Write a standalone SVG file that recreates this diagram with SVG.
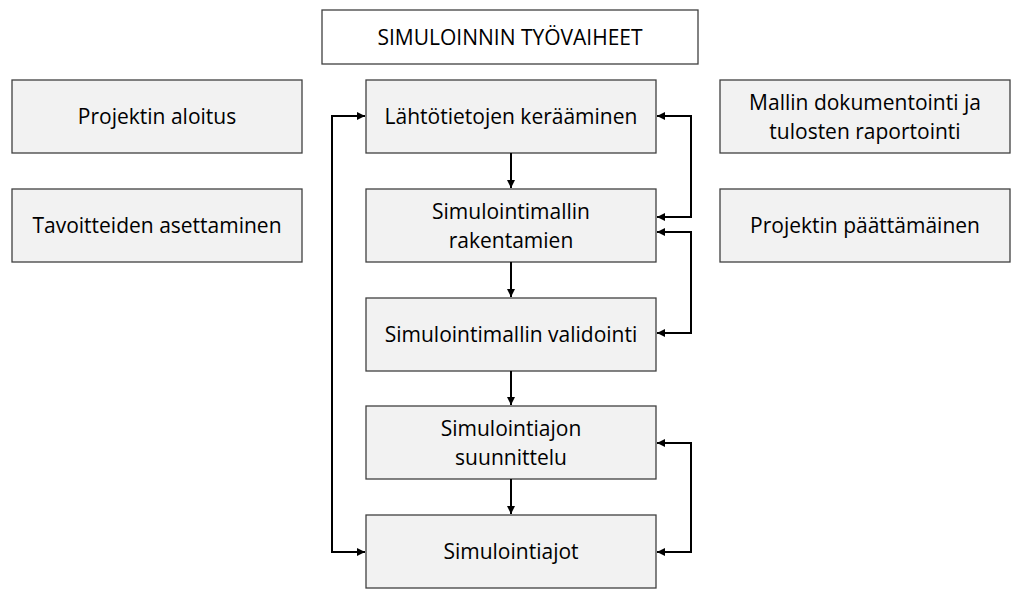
<svg xmlns="http://www.w3.org/2000/svg" width="1024" height="606" viewBox="0 0 1024 606">
<style>
.box{fill:#f2f2f2;stroke:#404040;stroke-width:1.3}
.title{fill:#ffffff;stroke:#404040;stroke-width:1.3}
text{font-family:"Open Sans","Liberation Sans",sans-serif;font-size:21px;fill:#000;text-anchor:middle}
.c{fill:none;stroke:#000;stroke-width:2}
</style>
<defs>
<marker id="ah" viewBox="0 0 10 10" refX="10" refY="5" markerWidth="4" markerHeight="4" orient="auto-start-reverse" markerUnits="strokeWidth">
<path d="M0,0 L10,5 L0,10 z" fill="#000"/>
</marker>
</defs>
<rect width="1024" height="606" fill="#fff"/>
<g id="title"><rect class="title" x="322" y="10" width="376" height="54"/><text x="510" y="45">SIMULOINNIN TYÖVAIHEET</text></g>
<g id="n-aloitus"><rect class="box" x="12" y="80" width="290" height="73"/><text x="157" y="124">Projektin aloitus</text></g>
<g id="n-tavoitteet"><rect class="box" x="12" y="189" width="290" height="73"/><text x="157" y="233">Tavoitteiden asettaminen</text></g>
<g id="n-lahto"><rect class="box" x="366" y="80" width="290" height="73"/><text x="511" y="124">Lähtötietojen kerääminen</text></g>
<g id="n-rakent"><rect class="box" x="366" y="189" width="290" height="73"/><text x="511" y="219">Simulointimallin</text><text x="511" y="248">rakentamien</text></g>
<g id="n-valid"><rect class="box" x="366" y="298" width="290" height="73"/><text x="511" y="342">Simulointimallin validointi</text></g>
<g id="n-suunn"><rect class="box" x="366" y="406" width="290" height="73"/><text x="511" y="436">Simulointiajon</text><text x="511" y="465">suunnittelu</text></g>
<g id="n-ajot"><rect class="box" x="366" y="515" width="290" height="73"/><text x="511" y="559">Simulointiajot</text></g>
<g id="n-dok"><rect class="box" x="720" y="80" width="290" height="73"/><text x="865" y="110">Mallin dokumentointi ja</text><text x="865" y="139">tulosten raportointi</text></g>
<g id="n-paatt"><rect class="box" x="720" y="189" width="290" height="73"/><text x="865" y="233">Projektin päättämäinen</text></g>
<g id="connectors">
<path class="c" d="M511,153 V188" marker-end="url(#ah)"/>
<path class="c" d="M511,262 V297" marker-end="url(#ah)"/>
<path class="c" d="M511,371 V405" marker-end="url(#ah)"/>
<path class="c" d="M511,479 V514" marker-end="url(#ah)"/>
<path class="c" d="M657,116 H691 V217 H657" marker-start="url(#ah)" marker-end="url(#ah)"/>
<path class="c" d="M657,232 H691 V333 H657" marker-start="url(#ah)" marker-end="url(#ah)"/>
<path class="c" d="M657,443 H691 V552 H657" marker-start="url(#ah)" marker-end="url(#ah)"/>
<path class="c" d="M365,116 H332 V552 H365" marker-start="url(#ah)" marker-end="url(#ah)"/>
</g>
</svg>
